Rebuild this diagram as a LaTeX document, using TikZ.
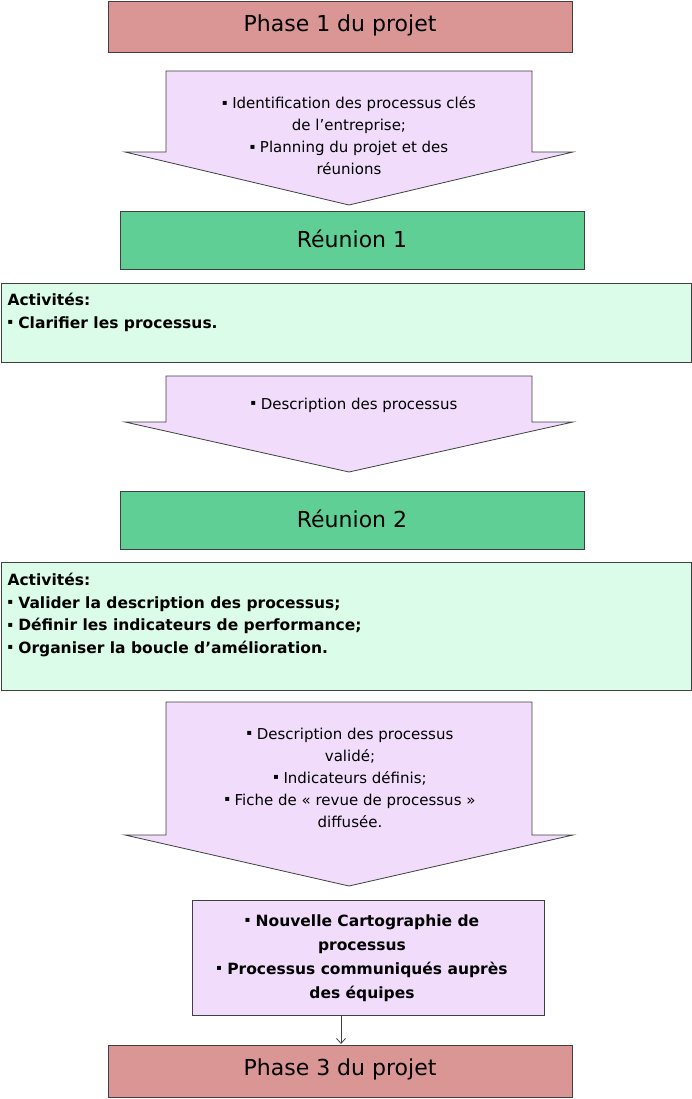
\documentclass[tikz,border=0pt]{standalone}
\usepackage{fontspec}
\setmainfont{DejaVu Sans}
\usetikzlibrary{arrows.meta}
\definecolor{salmon}{HTML}{D99694}
\definecolor{grn}{HTML}{5FCF95}
\definecolor{lgrn}{HTML}{DAFCE8}
\definecolor{lpur}{HTML}{F1DCFB}
\definecolor{bord}{HTML}{404040}
\newcommand{\bul}{\raisebox{0.25em}{\fontsize{8}{8}\selectfont▪}\ }
\begin{document}
\begin{tikzpicture}[x=1pt,y=-1pt,
  box/.style={draw=bord,line width=0.8pt},
  ttl/.style={font=\fontsize{22}{26}\selectfont},
  txt/.style={font=\fontsize{15}{22}\selectfont,align=center},
  btxt/.style={font=\bfseries\fontsize{15.5}{22.5}\selectfont,align=left,anchor=north west}]
\useasboundingbox (0,0) rectangle (692,1099);
% Phase 1
\draw[box,fill=salmon] (108,1) rectangle (572,52);
\node[ttl] (p1) at (340,25) {Phase 1 du projet};
% arrow 1
\draw[box,fill=lpur] (166,71) -- (532,71) -- (532,152) -- (573,152) -- (349,205) -- (125,152) -- (166,152) -- cycle;
\node[txt] (a1) at (349,136) {\bul Identification des processus clés\\de l'entreprise;\\\bul Planning du projet et des\\réunions};
% Réunion 1
\draw[box,fill=grn] (120,211) rectangle (584,269);
\node[ttl] (r1) at (352,239) {Réunion 1};
\draw[box,fill=lgrn] (1,283) rectangle (691,362);
\node[btxt] (ac1) at (4,290) {Activités:\\\bul Clarifier les processus.};
% arrow 2
\draw[box,fill=lpur] (166,376) -- (532,376) -- (532,422) -- (573,422) -- (349,472) -- (125,422) -- (166,422) -- cycle;
\node[txt] (a2) at (354,405) {\bul Description des processus};
% Réunion 2
\draw[box,fill=grn] (120,491) rectangle (584,549);
\node[ttl] (r2) at (352,519) {Réunion 2};
\draw[box,fill=lgrn] (1,562) rectangle (691,690);
\node[btxt] (ac2) at (4,570) {Activités:\\\bul Valider la description des processus;\\\bul Définir les indicateurs de performance;\\\bul Organiser la boucle d’amélioration.};
% arrow 3
\draw[box,fill=lpur] (166,702) -- (532,702) -- (532,835) -- (573,835) -- (349,886) -- (125,835) -- (166,835) -- cycle;
\node[txt] (a3) at (350,778) {\bul Description des processus\\validé;\\\bul Indicateurs définis;\\\bul Fiche de « revue de processus »\\diffusée.};
% result box
\draw[box,fill=lpur] (192,900) rectangle (544,1015);
\node[txt,font=\bfseries\fontsize{15.5}{24}\selectfont] (res) at (362,958) {\bul Nouvelle Cartographie de\\processus\\\bul Processus communiqués auprès\\des équipes};
\coordinate (s) at (341,1015);
\coordinate (e) at (341,1044);
\draw[-{Straight Barb[length=5pt,width=9pt]},bord,line width=0.8pt] (s) -- (e);
% Phase 3
\draw[box,fill=salmon] (108,1045) rectangle (572,1097);
\node[ttl] (p3) at (340,1069) {Phase 3 du projet};
\end{tikzpicture}
\end{document}
